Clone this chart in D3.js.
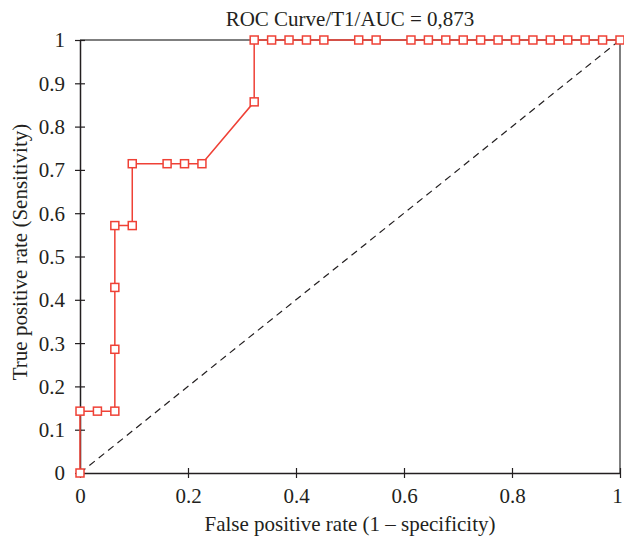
<!DOCTYPE html>
<html>
<head>
<meta charset="utf-8">
<script src="https://cdn.jsdelivr.net/npm/d3@7"></script>
<style>
  body { margin: 0; background: #fff; }
  svg text { font-family: "Liberation Serif", "Times New Roman", serif; fill: #231f20; }
</style>
</head>
<body>
<div class="roc-chart"></div>
<script>
// ROC points: 31 negatives, 7 positives
const fprCounts = [0, 0, 1, 2, 2, 2, 2, 3, 3, 5, 6, 7, 10, 10, 11, 12, 13, 14, 16, 17, 19, 20, 21, 22, 23, 24, 25, 26, 27, 28, 29, 30, 31];
const tprCounts = [0, 1, 1, 1, 2, 3, 4, 4, 5, 5, 5, 5, 6, 7, 7, 7, 7, 7, 7, 7, 7, 7, 7, 7, 7, 7, 7, 7, 7, 7, 7, 7, 7];
const nNeg = 31, nPos = 7;
const xTicks = [0, 0.2, 0.4, 0.6, 0.8, 1];
const yTicks = [0, 0.1, 0.2, 0.3, 0.4, 0.5, 0.6, 0.7, 0.8, 0.9, 1];
const title = "ROC Curve/T1/AUC = 0,873";
const xLabel = "False positive rate (1 \u2013 specificity)";
const yLabel = "True positive rate (Sensitivity)";

const points = fprCounts.map((c, i) => ({ x: c / nNeg, y: tprCounts[i] / nPos }));

const width = 624, height = 540;
const margin = { left: 80, right: 4, top: 40, bottom: 67 };

const svg = d3.select(".roc-chart").append("svg")
    .attr("width", width)
    .attr("height", height);

const x = d3.scaleLinear().domain([0, 1]).range([margin.left, width - margin.right]);
const y = d3.scaleLinear().domain([0, 1]).range([height - margin.bottom, margin.top]);

const red = "#ef4136";
const axisColor = "#231f20";
const fontSize = 21;

// frame top + right
svg.append("path")
    .attr("d", `M${x(0)},${y(1)}H${x(1)}V${y(0)}`)
    .attr("fill", "none")
    .attr("stroke", "#555")
    .attr("stroke-width", 1.5);

// diagonal reference
svg.append("line")
    .attr("x1", x(0)).attr("y1", y(0))
    .attr("x2", x(1)).attr("y2", y(1))
    .attr("stroke", axisColor)
    .attr("stroke-width", 1.2)
    .attr("stroke-dasharray", "7,5");

/*axes*/
const fmt = d => d === 0 || d === 1 ? d : d.toFixed(1);
const xAxis = svg.append("g")
    .attr("transform", `translate(0,${y(0)})`)
    .call(d3.axisBottom(x).tickValues(xTicks).tickFormat(fmt).tickSizeOuter(0));
const yAxis = svg.append("g")
    .attr("transform", `translate(${x(0)},0)`)
    .call(d3.axisLeft(y).tickValues(yTicks).tickFormat(fmt).tickSizeOuter(0));

[xAxis, yAxis].forEach(g => {
    g.select(".domain").attr("stroke", axisColor).attr("stroke-width", 1.5);
    g.selectAll(".tick line").attr("stroke", axisColor).attr("stroke-width", 1.2);
    g.selectAll(".tick text")
        .style("font-family", "'Liberation Serif', 'Times New Roman', serif")
        .style("font-size", fontSize + "px")
        .style("fill", axisColor);
});
// ticks cross the axis
xAxis.selectAll(".tick line").attr("y1", -5).attr("y2", 5);
xAxis.selectAll(".tick text").attr("y", 30).attr("dy", 0)
    .attr("dx", d => d === 1 ? -3 : 0);
yAxis.selectAll(".tick line").attr("x1", -5).attr("x2", 5);
yAxis.selectAll(".tick text").attr("x", -15).attr("dy", "0.33em");

/*curve*/
svg.append("path")
    .datum(points)
    .attr("fill", "none")
    .attr("stroke", red)
    .attr("stroke-width", 1.5)
    .attr("d", d3.line().x(d => x(d.x)).y(d => y(d.y)));

const s = 8;
svg.append("g").selectAll("rect")
    .data(points)
    .join("rect")
    .attr("x", d => x(d.x) - s / 2)
    .attr("y", d => y(d.y) - s / 2)
    .attr("width", s).attr("height", s)
    .attr("fill", "#fff")
    .attr("stroke", red)
    .attr("stroke-width", 1.5);

/*texts*/
svg.append("text")
    .attr("x", 350).attr("y", 26)
    .attr("text-anchor", "middle")
    .style("font-size", fontSize + "px")
    .text(title);

svg.append("text")
    .attr("x", 350).attr("y", 531)
    .attr("text-anchor", "middle")
    .style("font-size", fontSize + "px")
    .text(xLabel);

svg.append("text")
    .attr("transform", `translate(27,252) rotate(-90)`)
    .attr("text-anchor", "middle")
    .style("font-size", fontSize + "px")
    .text(yLabel);
</script>
</body>
</html>
